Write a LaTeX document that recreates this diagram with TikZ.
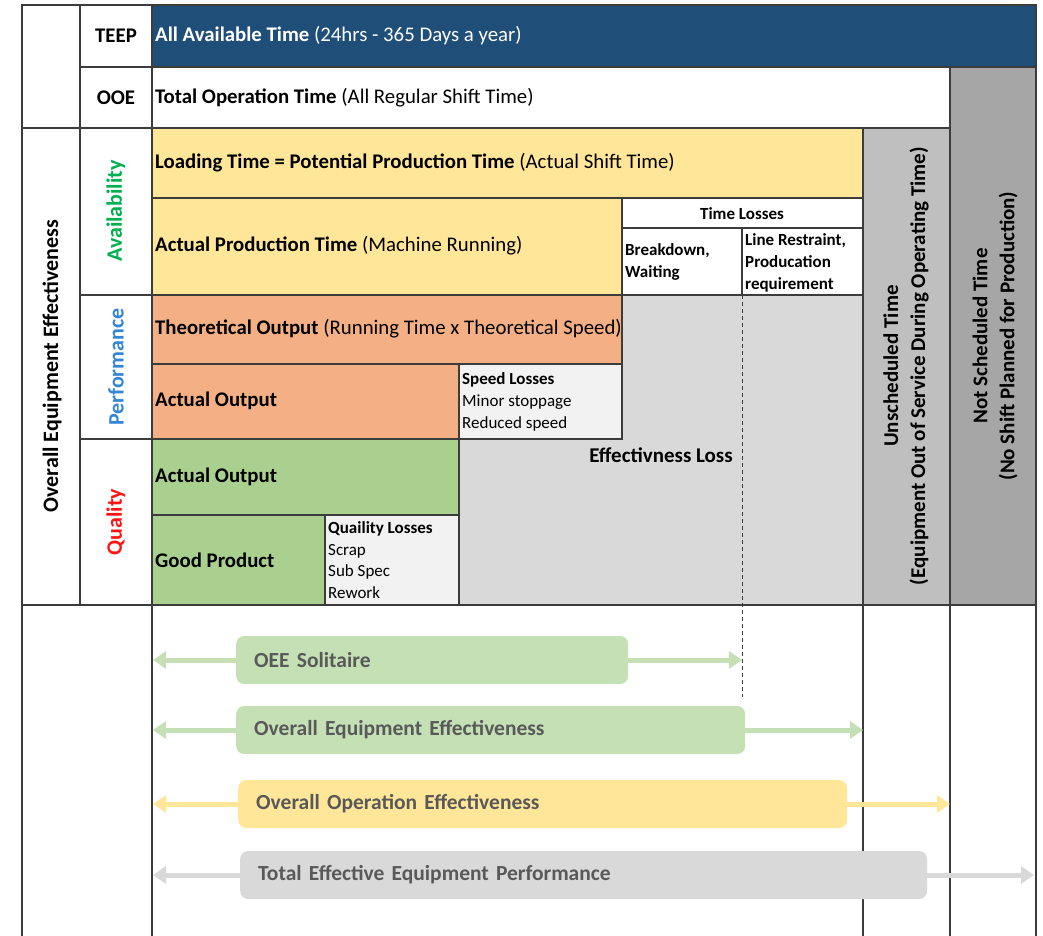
\documentclass[tikz,border=0pt]{standalone}
\usepackage{fontspec}
\setmainfont{Carlito}
\usetikzlibrary{arrows.meta}
\definecolor{teep}{RGB}{31,78,121}
\definecolor{loading}{RGB}{255,230,153}
\definecolor{performance}{RGB}{244,176,132}
\definecolor{quality}{RGB}{169,208,142}
\definecolor{effloss}{RGB}{217,217,217}
\definecolor{losses}{RGB}{242,242,242}
\definecolor{unscheduled}{RGB}{191,191,191}
\definecolor{notscheduled}{RGB}{166,166,166}
\definecolor{oeebar}{RGB}{197,224,180}
\definecolor{availgreen}{RGB}{0,176,80}
\definecolor{perfblue}{RGB}{51,133,214}
\definecolor{qualred}{RGB}{255,20,20}
\definecolor{bartext}{RGB}{89,89,89}
\definecolor{grid}{RGB}{60,60,60}
\tikzstyle{cell}=[draw=grid, line width=1.2pt]
\tikzstyle{label}=[anchor=west, inner sep=0pt, font=\fontsize{20.8}{24}\selectfont]
\tikzstyle{small}=[anchor=west, inner sep=0pt, align=left, font=\fontsize{17}{21.8}\selectfont]
\tikzstyle{side}=[rotate=90, inner sep=0pt, font=\bfseries\fontsize{22}{27}\selectfont, align=center]
\tikzstyle{bar}=[anchor=west, rounded corners=8pt, minimum height=48pt, inner xsep=18pt,
  align=left, text=bartext, font=\bfseries\fontsize{21.5}{24}\selectfont]
\tikzset{span/.style={line width=5pt, -{Triangle[width=17pt,length=13pt]}}}

\begin{document}
\begin{tikzpicture}[x=1pt,y=-1pt]
  \useasboundingbox (0,0) rectangle (1043,936);

  %% Cells
  \draw[cell,fill=white] (22,5) rectangle (80,128);
  \draw[cell,fill=white] (22,128) rectangle (80,605);
  \draw[cell,fill=white] (80,5) rectangle (152,67);
  \draw[cell,fill=white] (80,67) rectangle (152,128);
  \draw[cell,fill=white] (80,128) rectangle (152,295);
  \draw[cell,fill=white] (80,295) rectangle (152,439);
  \draw[cell,fill=white] (80,439) rectangle (152,605);

  \draw[cell,fill=teep] (152,5) rectangle (1036,67);
  \draw[cell,fill=white] (152,67) rectangle (950,128);
  \draw[cell,fill=notscheduled] (950,67) rectangle (1036,605);
  \draw[cell,fill=loading] (152,128) rectangle (863,198);
  \draw[cell,fill=unscheduled] (863,128) rectangle (950,605);
  \draw[cell,fill=loading] (152,198) rectangle (622,295);
  \draw[cell,fill=white] (622,198) rectangle (863,228);
  \draw[cell,fill=white] (622,228) rectangle (742,295);
  \draw[cell,fill=white] (742,228) rectangle (863,295);
  \draw[cell,fill=effloss] (459,295) rectangle (863,605);
  \draw[cell,fill=performance] (152,295) rectangle (622,364);
  \draw[cell,fill=performance] (152,364) rectangle (459,439);
  \draw[cell,fill=losses] (459,364) rectangle (622,439);
  \draw[cell,fill=quality] (152,439) rectangle (459,515);
  \draw[cell,fill=quality] (152,515) rectangle (325,605);
  \draw[cell,fill=losses] (325,515) rectangle (459,605);

  %% Lower part
  \draw[cell] (22,605) -- (1036,605);
  \draw[cell] (152,605) -- (152,936);
  \draw[cell] (863,605) -- (863,936);
  \draw[cell] (950,605) -- (950,936);
  \draw[grid,line width=0.8pt,dash pattern=on 4pt off 3pt] (742,295) -- (742,697);
  \draw[grid,line width=2pt] (22,936) -- (22,5) -- (1036,5) -- (1036,936);

  %% Labels
  \draw (116,36) node[font=\bfseries\fontsize{20.8}{24}\selectfont] (teepTag) {TEEP};
  \draw (116,98) node[font=\bfseries\fontsize{20.8}{24}\selectfont] (ooeTag) {OOE};
  \draw (52,366) node[side] (oeeSide) {Overall Equipment Effectiveness};
  \draw (116,211) node[side,text=availgreen] (availSide) {Availability};
  \draw (116,367) node[side,text=perfblue] (perfSide) {Performance};
  \draw (116,522) node[side,text=qualred] (qualSide) {Quality};

  \draw (155,36) node[label,text=white] (allTime) {\textbf{All Available Time} (24hrs - 365 Days a year)};
  \draw (155,98) node[label] (opTime) {\textbf{Total Operation Time} (All Regular Shift Time)};
  \draw (155,163) node[label] (loadTime) {\textbf{Loading Time = Potential Production Time} (Actual Shift Time)};
  \draw (155,246) node[label] (prodTime) {\textbf{Actual Production Time} (Machine Running)};
  \draw (155,329) node[label] (theoOut) {\textbf{Theoretical Output} (Running Time x Theoretical Speed)};
  \draw (155,401) node[label] (perfOut) {\textbf{Actual Output}};
  \draw (155,477) node[label] (qualOut) {\textbf{Actual Output}};
  \draw (155,560) node[label] (goodProd) {\textbf{Good Product}};

  \draw (742,214) node[font=\bfseries\fontsize{17}{21.8}\selectfont] (timeLoss) {Time Losses};
  \draw (625,262) node[small,font=\bfseries\fontsize{17}{21.8}\selectfont] (breakdown) {Breakdown,\\Waiting};
  \draw (745,263) node[small,font=\bfseries\fontsize{17}{21.8}\selectfont] (restraint) {Line Restraint,\\Producation\\requirement};
  \draw (462,402) node[small] (speedLoss) {\textbf{Speed Losses}\\Minor stoppage\\Reduced speed};
  \draw (328,560) node[small] (qualLoss) {\textbf{Quaility Losses}\\Scrap\\Sub Spec\\Rework};
  \draw (661,455) node[font=\bfseries\fontsize{21}{24}\selectfont] (effLoss) {Effectivness Loss};

  \draw (906,366) node[side,font=\bfseries\fontsize{21}{27}\selectfont] (unsched) {Unscheduled Time\\(Equipment Out of Service During Operating Time)};
  \draw (995,336) node[side,font=\bfseries\fontsize{21}{27}\selectfont] (notSched) {Not Scheduled Time\\(No Shift Planned for Production)};

  %% Spans
  \draw (236,660) node[bar,fill=oeebar,text width=356pt] (solitaire) {OEE Solitaire};
  \draw (236,730) node[bar,fill=oeebar,text width=473pt] (oeeBar) {Overall Equipment Effectiveness};
  \draw (238,804) node[bar,fill=loading,text width=573pt] (ooeBar) {Overall Operation Effectiveness};
  \draw (240,875) node[bar,fill=effloss,text width=651pt] (teepBar) {Total Effective Equipment Performance};

  \coordinate (solL) at (153,660);  \coordinate (solR) at (742,660);
  \coordinate (oeeL) at (153,730);  \coordinate (oeeR) at (863,730);
  \coordinate (ooeL) at (153,804);  \coordinate (ooeR) at (950,804);
  \coordinate (teepL) at (153,875); \coordinate (teepR) at (1034,875);

  \draw[span,oeebar] (solitaire.west) -- (solL);
  \draw[span,oeebar] (solitaire.east) -- (solR);
  \draw[span,oeebar] (oeeBar.west) -- (oeeL);
  \draw[span,oeebar] (oeeBar.east) -- (oeeR);
  \draw[span,loading] (ooeBar.west) -- (ooeL);
  \draw[span,loading] (ooeBar.east) -- (ooeR);
  \draw[span,effloss] (teepBar.west) -- (teepL);
  \draw[span,effloss] (teepBar.east) -- (teepR);
\end{tikzpicture}
\end{document}
